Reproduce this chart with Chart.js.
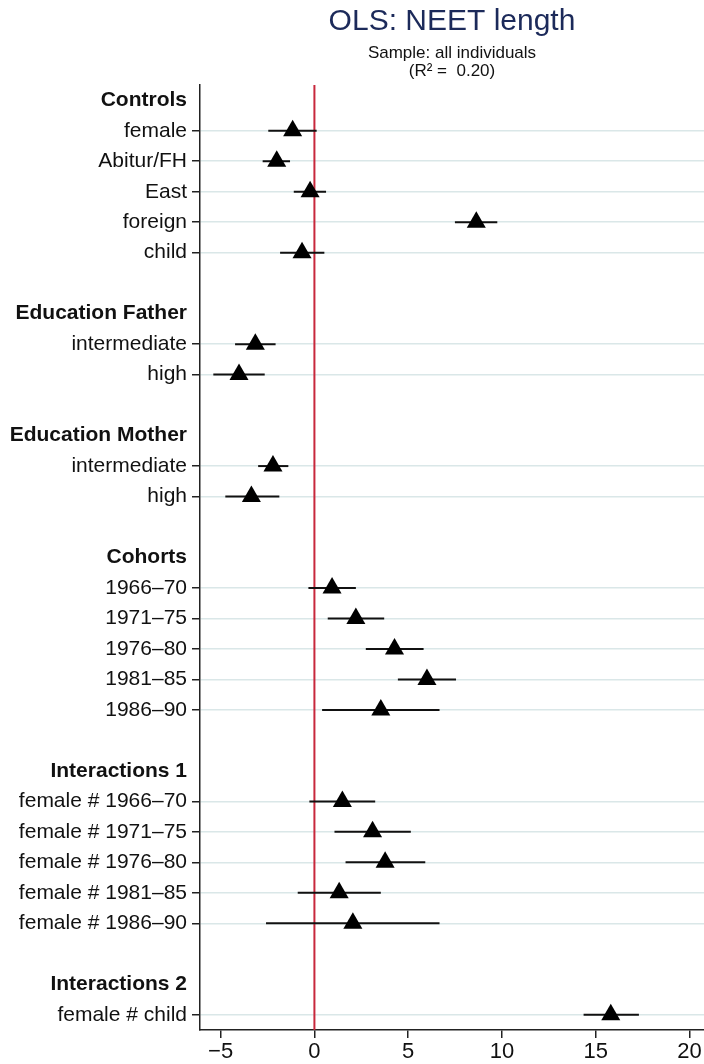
<!DOCTYPE html>
<html>
<head>
<meta charset="utf-8">
<script src="https://cdn.jsdelivr.net/npm/chart.js@4.4.1/dist/chart.umd.min.js"></script>
<style>
  html, body { margin: 0; padding: 0; background: #fff; }
  #wrap { width: 704px; height: 1064px; position: relative; }
</style>
</head>
<body>
<div id="wrap"><canvas id="c"></canvas></div>
<script>
// ---- data ----
const groupNames = ['Controls', 'Education Father', 'Education Mother', 'Cohorts', 'Interactions 1', 'Interactions 2'];
const varGroup = [0, 0, 0, 0, 0, 1, 1, 2, 2, 3, 3, 3, 3, 3, 4, 4, 4, 4, 4, 5];
const varLabels = ['female', 'Abitur/FH', 'East', 'foreign', 'child',
  'intermediate', 'high',
  'intermediate', 'high',
  '1966–70', '1971–75', '1976–80', '1981–85', '1986–90',
  'female # 1966–70', 'female # 1971–75', 'female # 1976–80', 'female # 1981–85', 'female # 1986–90',
  'female # child'];
const coef = [-1.16, -2.01, -0.23, 8.63, -0.66,
  -3.15, -4.02,
  -2.21, -3.36,
  0.94, 2.21, 4.27, 6.00, 3.54,
  1.49, 3.10, 3.77, 1.32, 2.05,
  15.80];
const ciLow = [-2.46, -2.76, -1.10, 7.49, -1.83,
  -4.23, -5.39,
  -3.00, -4.75,
  -0.32, 0.71, 2.74, 4.45, 0.41,
  -0.27, 1.07, 1.66, -0.89, -2.58,
  14.35];
const ciHigh = [0.12, -1.30, 0.62, 9.75, 0.53,
  -2.07, -2.65,
  -1.39, -1.87,
  2.21, 3.72, 5.82, 7.55, 6.67,
  3.24, 5.14, 5.91, 3.54, 6.67,
  17.30];
const xTicks = [-5, 0, 5, 10, 15, 20];

// ---- build row slots (headers, blank spacer rows, variables) ----
const slotLabels = [];
const slotIsHeader = [];
const slotIsData = [];
const varSlot = [];
let prevGroup = -1;
varLabels.forEach((lab, i) => {
  const g = varGroup[i];
  if (g !== prevGroup) {
    if (prevGroup !== -1) { slotLabels.push(''); slotIsHeader.push(false); slotIsData.push(false); }
    slotLabels.push(groupNames[g]); slotIsHeader.push(true); slotIsData.push(false);
    prevGroup = g;
  }
  varSlot.push(slotLabels.length);
  slotLabels.push(lab); slotIsHeader.push(false); slotIsData.push(true);
});
const nSlots = slotLabels.length;

Chart.defaults.font.family = "'Liberation Sans', Arial, Helvetica, sans-serif";
Chart.defaults.color = '#111';

const datasets = [];
datasets.push({
  label: 'coef',
  data: coef.map((c, i) => ({ x: c, y: varSlot[i] })),
  pointStyle: 'triangle',
  pointRadius: 11,
  pointBackgroundColor: '#000',
  pointBorderWidth: 0,
  showLine: false
});
coef.forEach((c, i) => {
  datasets.push({
    label: 'ci' + i,
    data: [{ x: ciLow[i], y: varSlot[i] }, { x: ciHigh[i], y: varSlot[i] }],
    showLine: true,
    borderColor: '#111',
    borderWidth: 2,
    pointRadius: 0
  });
});
datasets.push({
  label: 'zero',
  data: [{ x: 0, y: -0.5 }, { x: 0, y: nSlots - 0.5 }],
  showLine: true,
  borderColor: '#c8283c',
  borderWidth: 2,
  pointRadius: 0
});

const transparent = 'rgba(0,0,0,0)';

new Chart(document.getElementById('c'), {
  type: 'scatter',
  data: { datasets },
  options: {
    responsive: true,
    maintainAspectRatio: false,
    animation: false,
    devicePixelRatio: 1,
    events: [],
    layout: { padding: 0, autoPadding: false },
    plugins: {
      legend: { display: false },
      tooltip: { enabled: false },
      title: {
        display: true,
        fullSize: false,
        text: 'OLS: NEET length',
        color: '#1c2a5a',
        font: { size: 30, weight: 'normal', lineHeight: 1.2 },
        padding: { top: 4, bottom: 2 }
      },
      subtitle: {
        display: true,
        fullSize: false,
        text: ['Sample: all individuals', '(R² =  0.20)'],
        color: '#111',
        font: { size: 17, weight: 'normal', lineHeight: 1.06 },
        padding: { top: 2, bottom: 5 }
      }
    },
    scales: {
      x: {
        type: 'linear',
        min: -6.1,
        max: 20.77,
        afterBuildTicks: (s) => { s.ticks = xTicks.map(v => ({ value: v })); },
        afterFit: (s) => { s.height = 34; s.paddingRight = 0; s.paddingLeft = 0; },
        ticks: {
          autoSkip: false,
          maxRotation: 0,
          padding: 1,
          color: '#111',
          font: { size: 22 },
          callback: (v) => (v < 0 ? '\u2212' + Math.abs(v) : String(v))
        },
        grid: {
          drawOnChartArea: false,
          drawTicks: true,
          tickLength: 8,
          tickColor: '#222',
          lineWidth: 1.5
        },
        border: { display: true, color: '#222', width: 1.5 }
      },
      y: {
        type: 'linear',
        reverse: true,
        min: -0.5,
        max: nSlots - 0.5,
        afterBuildTicks: (s) => { s.ticks = slotLabels.map((_, i) => ({ value: i })); },
        afterFit: (s) => { s.width = 200; },
        ticks: {
          autoSkip: false,
          padding: 5,
          color: '#111',
          font: (ctx) => ({
            size: 21,
            weight: (ctx.tick && slotIsHeader[ctx.tick.value]) ? 'bold' : 'normal'
          }),
          callback: (v) => slotLabels[v] || ''
        },
        grid: {
          drawTicks: true,
          tickLength: 8,
          lineWidth: 1.5,
          color: (ctx) => (ctx.tick && slotIsData[ctx.tick.value]) ? '#dae7e8' : transparent,
          tickColor: (ctx) => (ctx.tick && slotIsData[ctx.tick.value]) ? '#222' : transparent
        },
        border: { display: true, color: '#222', width: 1.5 }
      }
    }
  }
});
</script>
</body>
</html>
